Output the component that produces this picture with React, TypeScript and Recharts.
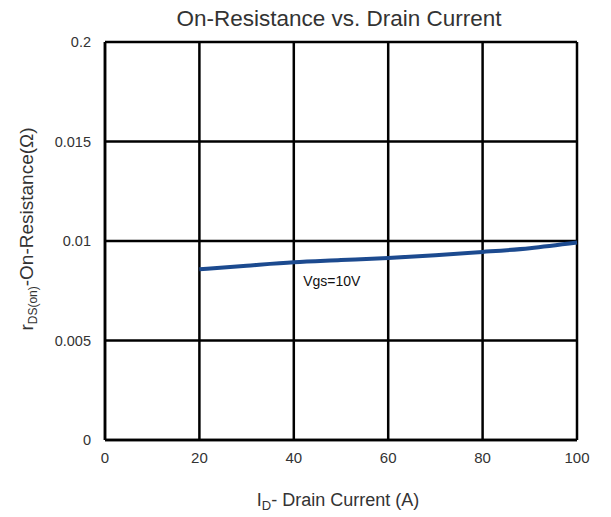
import React from "react";
import { LineChart, Line, XAxis, YAxis, CartesianGrid, ReferenceDot, Label } from "recharts";

const currents = [20, 30, 40, 50, 60, 70, 80, 90, 100];
const resistance = [0.00858, 0.00876, 0.00893, 0.00904, 0.00915, 0.00929, 0.00945, 0.00964, 0.00992];
const xTicks = [0, 20, 40, 60, 80, 100];
const yTicks = [0, 0.005, 0.01, 0.015, 0.02];
const yTickLabels = ["0", "0.005", "0.01", "0.015", "0.2"];
const curveLabel = { x: 42, y: 0.008, text: "Vgs=10V" };

const data = currents.map((c, i) => ({ id: c, r: resistance[i] }));

const FONT = "'Liberation Sans', Arial, sans-serif";
const TXT = "#333";

const YTitle = (props: any) => {
  const vb = props.viewBox || {};
  const cx = 33;
  const cy = vb.y + vb.height / 2 - 12;
  return (
    <text
      x={cx}
      y={cy}
      transform={`rotate(-90 ${cx} ${cy})`}
      textAnchor="middle"
      fontFamily={FONT}
      fontSize={19}
      fill={TXT}
    >
      <tspan>r</tspan>
      <tspan fontSize={12} dy={4}>DS(on)</tspan>
      <tspan dy={-4}>-On-Resistance(Ω)</tspan>
    </text>
  );
};

const XTitle = (props: any) => {
  const vb = props.viewBox || {};
  const cx = vb.x + vb.width / 2 - 3;
  return (
    <text x={cx} y={506} textAnchor="middle" fontFamily={FONT} fontSize={18} fill={TXT}>
      <tspan>I</tspan>
      <tspan fontSize={13} dy={4}>D</tspan>
      <tspan dy={-4}>- Drain Current (A)</tspan>
    </text>
  );
};

export default function App() {
  return (
    <div style={{ position: "absolute", left: 0, top: 0, width: 611, height: 517, background: "#fff" }}>
      <LineChart width={611} height={517} data={data} margin={{ top: 42, right: 34, bottom: 0, left: 0 }}>
        <text x={339} y={26} textAnchor="middle" fontFamily={FONT} fontSize={22.5} fill={TXT}>
          On-Resistance vs. Drain Current
        </text>
        <CartesianGrid stroke="#000" strokeWidth={2.5} horizontalValues={yTicks} verticalValues={xTicks} />
        <XAxis
          dataKey="id"
          type="number"
          domain={[0, 100]}
          ticks={xTicks}
          height={77}
          axisLine={{ stroke: "#000", strokeWidth: 2.5 }}
          tickLine={false}
          tickMargin={6}
          tick={{ fontFamily: FONT, fontSize: 15, fill: TXT }}
        >
          <Label content={<XTitle />} />
        </XAxis>
        <YAxis
          type="number"
          domain={[0, 0.02]}
          ticks={yTicks}
          width={105}
          interval={0}
          axisLine={{ stroke: "#000", strokeWidth: 2.5 }}
          tickLine={false}
          tickMargin={8}
          tickFormatter={(v: number) => yTickLabels[yTicks.indexOf(v)] ?? String(v)}
          tick={{ fontFamily: FONT, fontSize: 14.5, fill: TXT }}
        >
          <Label content={<YTitle />} />
        </YAxis>
        <Line
          dataKey="r"
          type="monotone"
          stroke="#1c4a8f"
          strokeWidth={4}
          dot={false}
          isAnimationActive={false}
        />
        <ReferenceDot
          x={curveLabel.x}
          y={curveLabel.y}
          r={0}
          fill="none"
          stroke="none"
          label={{ value: curveLabel.text, position: "right", fontFamily: FONT, fontSize: 14, fill: "#111", offset: 0 }}
        />
      </LineChart>
    </div>
  );
}
